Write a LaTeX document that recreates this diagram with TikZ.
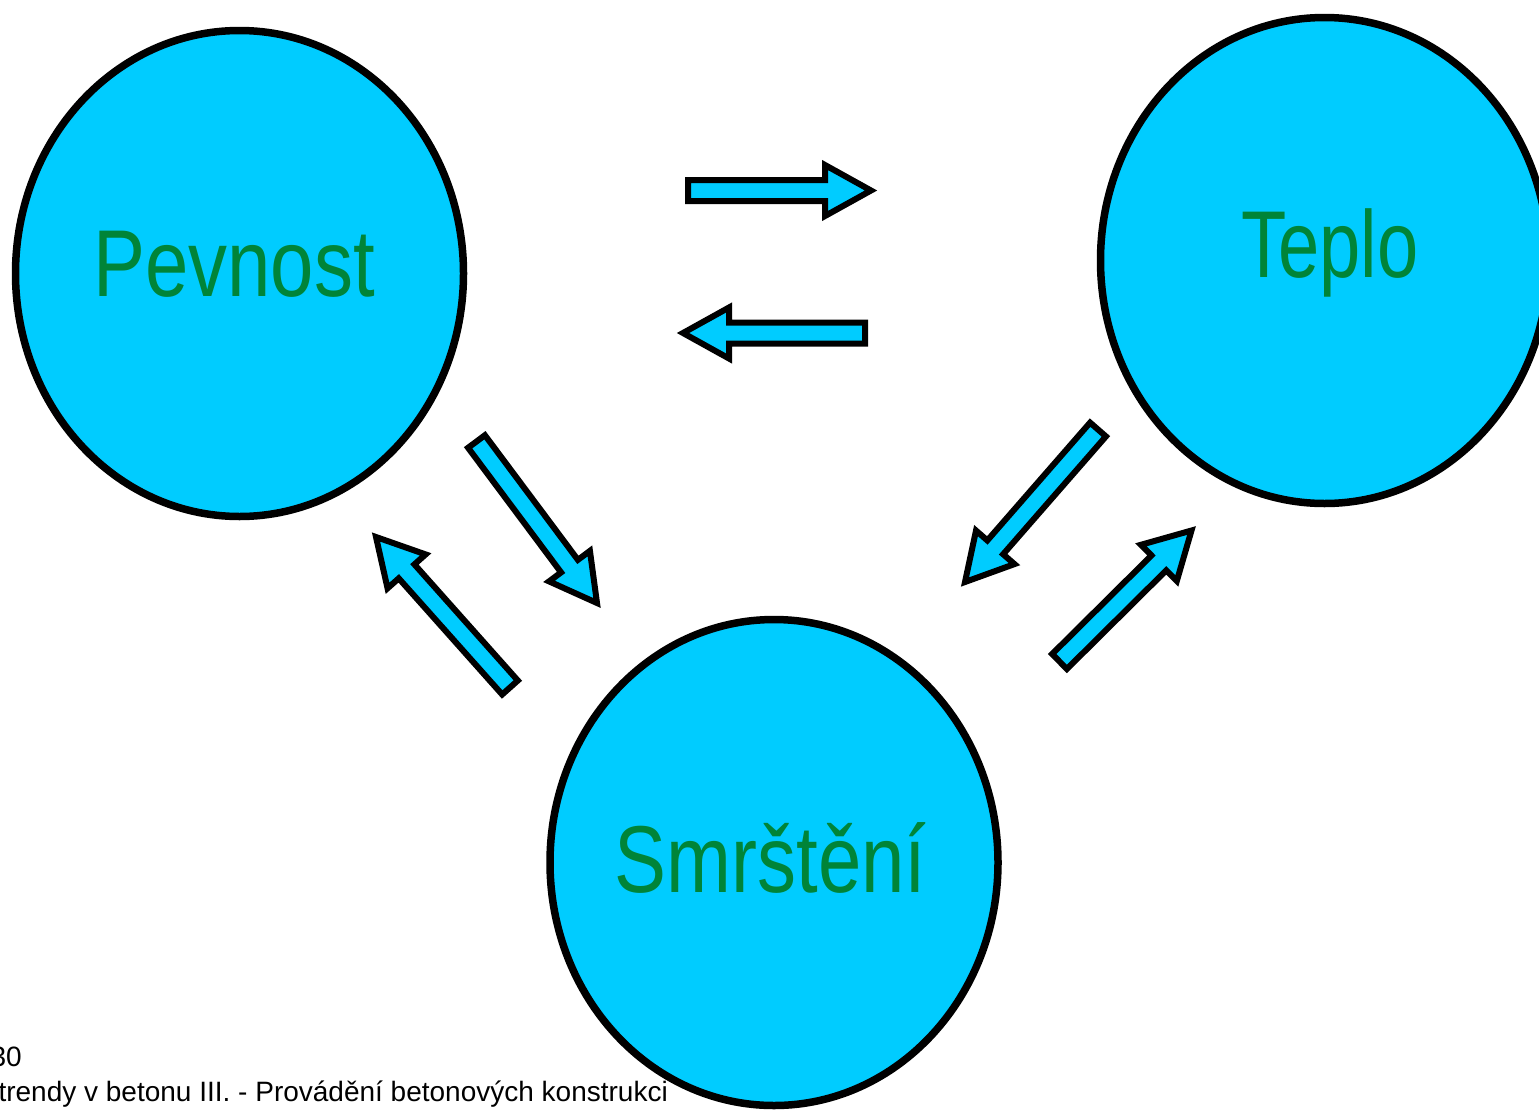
\documentclass[tikz,border=0pt]{standalone}
\usepackage{fontspec}
\setmainfont{Liberation Sans}
\usetikzlibrary{shapes.geometric,calc}
\definecolor{cyanfill}{RGB}{0,204,255}
\definecolor{txtgreen}{RGB}{0,132,56}
\tikzset{
  circ/.style={ellipse, draw=black, line width=7.5pt, fill=cyanfill,
    minimum width=448pt, minimum height=486pt, inner sep=0pt},
  lbl/.style={text=txtgreen, font=\fontsize{95}{100}\selectfont, inner sep=0pt, anchor=base},
  barrow/.style={draw=black, line width=6pt, fill=cyanfill, line join=miter},
  foot/.style={font=\fontsize{28}{30}\selectfont, inner sep=0pt, anchor=base east}
}
% #1 tail coordinate, #2 tip coordinate, #3 helper name
\newcommand\blockarr[3]{%
  \coordinate (#3) at ($(#2)!46pt!(#1)$);
  \draw[barrow] ($(#1)!10.5pt!90:(#2)$) -- ($(#3)!10.5pt!90:(#2)$) -- ($(#3)!25.5pt!90:(#2)$)
    -- (#2) -- ($(#3)!25.5pt!-90:(#2)$) -- ($(#3)!10.5pt!-90:(#2)$) -- ($(#1)!10.5pt!-90:(#2)$) -- cycle;}
\begin{document}
\begin{tikzpicture}[x=1pt,y=-1pt]
\useasboundingbox (0,0) rectangle (1539,1109);
\clip (0,0) rectangle (1539,1109);
% circles
\node[circ] (pev) at (239.5,273.5) {};
\node[circ] (tep) at (1324.5,260.5) {};
\node[circ] (smr) at (774,862.5) {};
% labels
\node[lbl] (tpev) at (234,296) {\scalebox{0.82}[1]{Pevnost}};
\node[lbl] (ttep) at (1330,277) {\scalebox{0.78}[1]{Teplo}};
\node[lbl] (tsmr) at (770.5,892) {\scalebox{0.82}[1]{Smrštění}};
% arrow anchor coordinates
\coordinate (a1t) at (688,190.5);   \coordinate (a1p) at (871,190.5);
\coordinate (a2t) at (865,333);     \coordinate (a2p) at (683,333);
\coordinate (a3t) at (476.5,441.5); \coordinate (a3p) at (597,603);
\coordinate (a4t) at (510,687.5);   \coordinate (a4p) at (376,537);
\coordinate (a5t) at (1098,429.5);  \coordinate (a5p) at (965,582);
\coordinate (a6t) at (1059.5,661.5);\coordinate (a6p) at (1191.5,530.5);
\blockarr{a1t}{a1p}{a1h}
\blockarr{a2t}{a2p}{a2h}
\blockarr{a3t}{a3p}{a3h}
\blockarr{a4t}{a4p}{a4h}
\blockarr{a5t}{a5p}{a5h}
\blockarr{a6t}{a6p}{a6h}
% footer
\node[foot] (pg) at (22,1066) {30};
\node[foot] (ft) at (668,1101) {trendy v betonu III. - Provádění betonových konstrukci};
\end{tikzpicture}
\end{document}
